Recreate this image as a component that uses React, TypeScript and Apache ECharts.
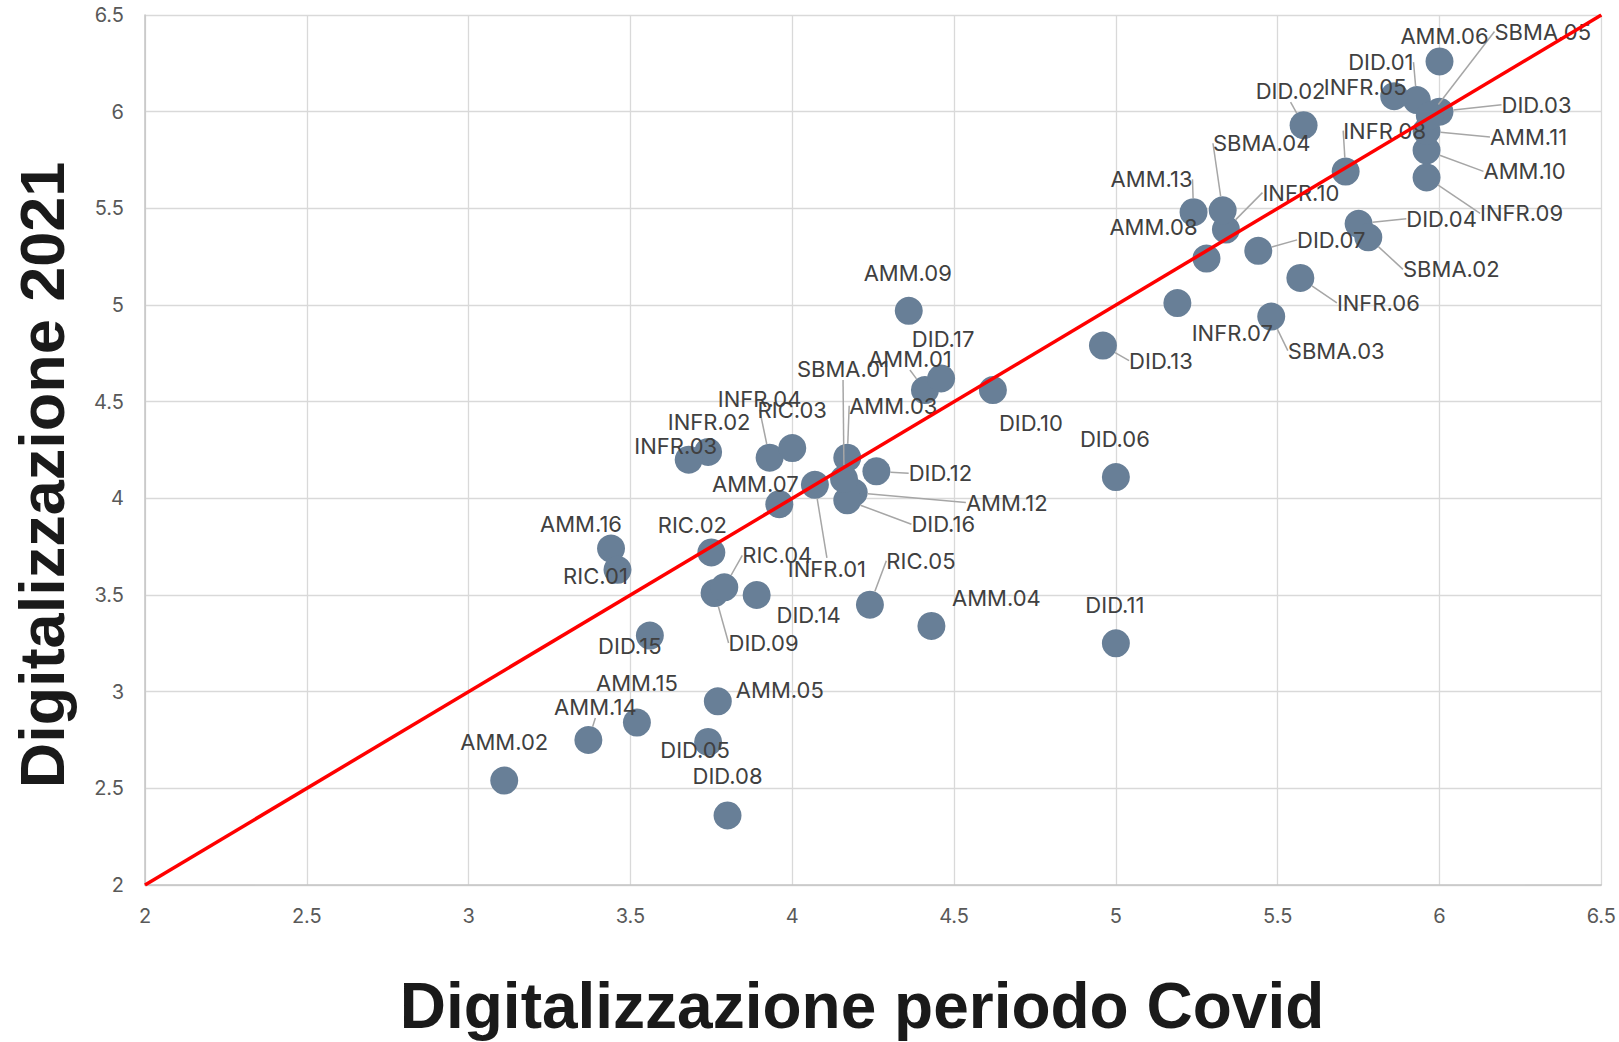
import React, { useEffect, useRef } from "react";
import * as echarts from "echarts";

const names = [
  "AMM.01", "AMM.02", "AMM.03", "AMM.04", "AMM.05", "AMM.06", "AMM.07", "AMM.08",
  "AMM.09", "AMM.10", "AMM.11", "AMM.12", "AMM.13", "AMM.14", "AMM.15", "AMM.16",
  "DID.01", "DID.02", "DID.03", "DID.04", "DID.05", "DID.06", "DID.07", "DID.08",
  "DID.09", "DID.10", "DID.11", "DID.12", "DID.13", "DID.14", "DID.15", "DID.16", "DID.17",
  "INFR.01", "INFR.02", "INFR.03", "INFR.04", "INFR.05", "INFR.06", "INFR.07", "INFR.08",
  "INFR.09", "INFR.10",
  "RIC.01", "RIC.02", "RIC.03", "RIC.04", "RIC.05",
  "SBMA.01", "SBMA.02", "SBMA.03", "SBMA.04", "SBMA.05",
];

// Digitalizzazione periodo Covid (x)
const covidValues = [
  4.41, 3.11, 4.17, 4.43, 3.77, 6.0, 3.96, 5.28,
  4.36, 5.96, 5.96, 4.19, 5.24, 3.37, 3.52, 3.44,
  5.93, 5.58, 6.0, 5.75, 3.74, 5.0, 5.44, 3.8,
  3.76, 4.62, 5.0, 4.26, 4.96, 3.89, 3.56, 4.17, 4.46,
  4.07, 3.74, 3.68, 3.93, 5.86, 5.57, 5.19, 5.71,
  5.96, 5.34,
  3.46, 3.75, 4.0, 3.79, 4.24,
  4.16, 5.78, 5.48, 5.33, 5.97,
];

// Digitalizzazione 2021 (y)
const values2021 = [
  4.56, 2.54, 4.21, 3.34, 2.95, 6.26, 3.97, 5.24,
  4.97, 5.8, 5.9, 4.03, 5.48, 2.75, 2.84, 3.74,
  6.06, 5.93, 6.0, 5.42, 2.74, 4.11, 5.28, 2.36,
  3.51, 4.56, 3.25, 4.14, 4.79, 3.5, 3.29, 3.99, 4.62,
  4.07, 4.24, 4.2, 4.21, 6.08, 5.14, 5.01, 5.69,
  5.66, 5.39,
  3.63, 3.72, 4.26, 3.54, 3.45,
  4.1, 5.35, 4.94, 5.49, 5.98,
];

const axisTicks = [2, 2.5, 3, 3.5, 4, 4.5, 5, 5.5, 6, 6.5];
const diagonal = [2, 6.5];

// label placement (pixel offset of label centre from point, leader line flag)
const labelPlacement: Record<string, [number, number, number]> = {
  "AMM.01": [-15, -31, 1], "AMM.02": [0, -39, 0], "AMM.03": [46, -52, 1], "AMM.04": [65, -28, 0],
  "AMM.05": [62, -11, 0], "AMM.06": [5, -25, 0], "AMM.07": [-24, -20, 0], "AMM.08": [-53, -32, 0],
  "AMM.09": [-1, -38, 0], "AMM.10": [98, 21, 1], "AMM.11": [102, 6, 1], "AMM.12": [153, 10, 1],
  "AMM.13": [-42, -33, 1], "AMM.14": [7, -33, 1], "AMM.15": [0, -40, 0], "AMM.16": [-30, -25, 0],
  "DID.01": [-36, -38, 1], "DID.02": [-13, -34, 1], "DID.03": [97, -7, 1], "DID.04": [83, -5, 1],
  "DID.05": [-13, 8, 0], "DID.06": [-1, -38, 0], "DID.07": [73, -11, 1], "DID.08": [0, -39, 0],
  "DID.09": [49, 50, 1], "DID.10": [38, 33, 0], "DID.11": [-1, -38, 0], "DID.12": [64, 2, 1],
  "DID.13": [58, 15, 1], "DID.14": [52, 20, 0], "DID.15": [-20, 10, 0], "DID.16": [96, 24, 1],
  "DID.17": [2, -39, 0],
  "INFR.01": [12, 84, 1], "INFR.02": [1, -30, 0], "INFR.03": [-13, -14, 0], "INFR.04": [-10, -59, 1],
  "INFR.05": [-29, -9, 0], "INFR.06": [78, 25, 1], "INFR.07": [55, 30, 0], "INFR.08": [39, -41, 1],
  "INFR.09": [95, 36, 1], "INFR.10": [75, -37, 1],
  "RIC.01": [-22, 6, 0], "RIC.02": [-19, -27, 0], "RIC.03": [0, -38, 0], "RIC.04": [53, -32, 1],
  "RIC.05": [51, -44, 1],
  "SBMA.01": [-1, -110, 1], "SBMA.02": [83, 32, 1], "SBMA.03": [65, 34, 1], "SBMA.04": [39, -67, 1],
  "SBMA.05": [113, -84, 1],
};

export default function App() {
  const ref = useRef<HTMLDivElement>(null);

  useEffect(() => {
    if (!ref.current) return;
    const chart = echarts.init(ref.current, undefined, { renderer: "svg" });

    const scatterData = names.map((n, i) => {
      const p = labelPlacement[n];
      return {
        name: n,
        value: [covidValues[i], values2021[i]],
        labelLine: { show: !!(p && p[2]) },
      };
    });

    const axisCommon = {
      type: "value" as const,
      min: axisTicks[0],
      max: axisTicks[axisTicks.length - 1],
      interval: 0.5,
      axisLine: { show: true, lineStyle: { color: "#c4c4c4", width: 1.5 } },
      axisTick: { show: false },
      splitLine: { show: true, lineStyle: { color: "#d9d9d9", width: 1.3 } },
      axisLabel: {
        color: "#595959",
        fontFamily: "Inter",
        fontSize: 20,
        margin: 21,
      },
    };

    chart.setOption({
      animation: false,
      backgroundColor: "#ffffff",
      grid: { left: 145, right: 16, top: 15, bottom: 157, containLabel: false },
      xAxis: { ...axisCommon },
      yAxis: { ...axisCommon },
      series: [
        {
          type: "scatter",
          z: 2,
          symbol: "circle",
          symbolSize: 28,
          itemStyle: { color: "#687f97", opacity: 1 },
          data: scatterData,
          label: {
            show: true,
            position: "inside",
            formatter: (p: any) => p.name,
            color: "#404040",
            fontFamily: "Inter",
            fontSize: 22,
          },
          labelLine: {
            show: false,
            showAbove: true,
            lineStyle: { color: "#a6a6a6", width: 1.5 },
          },
          labelLayout: (params: any) => {
            const n = names[params.dataIndex];
            const p = labelPlacement[n] || [0, -36, 0];
            const dx = p[0];
            const dy = p[1];
            const r = params.rect;
            const lr = params.labelRect;
            const cx = r.x + r.width / 2;
            const cy = r.y + r.height / 2;
            const lx = lr.x + dx;
            const ly = lr.y + dy;
            const lw = lr.width;
            const lh = lr.height;
            const midY = ly + lh / 2;
            let pts: number[][];
            if (cx < lx) {
              pts = [[cx, cy], [lx - 12, midY], [lx - 2, midY]];
            } else if (cx > lx + lw) {
              pts = [[cx, cy], [lx + lw + 12, midY], [lx + lw + 2, midY]];
            } else if (cy > ly + lh) {
              pts = [[cx, cy], [lx + lw / 2, ly + lh + 1]];
            } else {
              pts = [[cx, cy], [lx + lw / 2, ly - 1]];
            }
            return { dx, dy, labelLinePoints: pts };
          },
          emphasis: { disabled: true },
        },
        {
          type: "line",
          z: 5,
          symbol: "none",
          silent: true,
          lineStyle: { color: "#ff0000", width: 3.5 },
          data: [
            [diagonal[0], diagonal[0]],
            [diagonal[1], diagonal[1]],
          ],
        },
      ],
      graphic: [
        {
          type: "text",
          x: 862,
          y: 1006,
          style: {
            text: "Digitalizzazione periodo Covid",
            fontFamily: "Liberation Sans, Arial, sans-serif",
            fontWeight: "bold",
            fontSize: 64,
            fill: "#1a1a1a",
            align: "center",
            verticalAlign: "middle",
          },
        },
        {
          type: "text",
          x: 42,
          y: 475,
          rotation: Math.PI / 2,
          style: {
            text: "Digitalizzazione 2021",
            fontFamily: "Liberation Sans, Arial, sans-serif",
            fontWeight: "bold",
            fontSize: 63,
            fill: "#1a1a1a",
            align: "center",
            verticalAlign: "middle",
          },
        },
      ],
    });

    return () => chart.dispose();
  }, []);

  return (
    <div
      ref={ref}
      style={{ position: "fixed", left: 0, top: 0, width: 1619, height: 1042 }}
    />
  );
}
